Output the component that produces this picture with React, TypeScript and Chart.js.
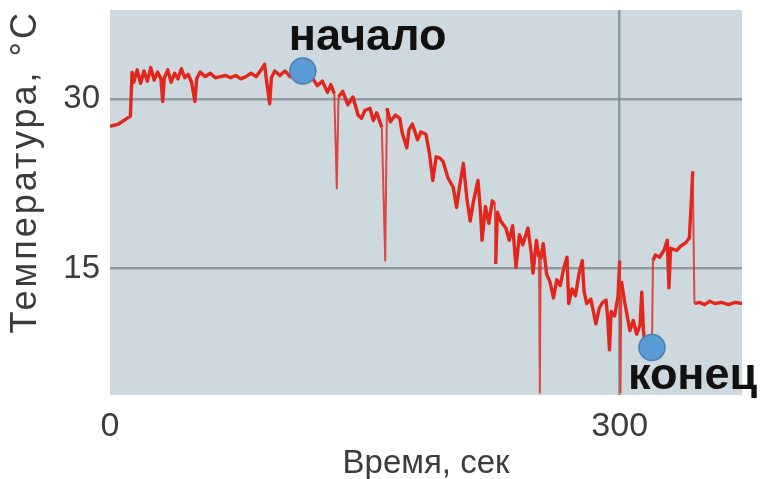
import React, { useEffect, useRef } from "react";
import { Chart, registerables } from "chart.js";

Chart.register(...registerables);

// ---- data ----
const timeSec = [
  0, 5, 10, 12, 13, 14, 16, 18, 20, 22, 24, 26, 28, 30, 31, 32, 34, 36, 38, 40,
  42, 44, 46, 48, 50, 51, 53, 56, 59, 62, 65, 68, 71, 74, 77, 80, 83, 86, 89, 91,
  92, 94, 95, 97, 100, 103, 106, 109, 113,
  116, 119, 122, 125, 128, 130, 132, 133.5, 134.5, 137, 140, 143, 146, 148, 150,
  153, 155, 157, 160, 162, 163, 165, 168, 170.6, 172, 174.7, 176, 178, 181, 183,
  186, 188, 190, 192, 194, 196, 199, 202, 204,
  206, 208, 210, 212, 214, 216.6, 218, 219, 221, 223, 225, 226.5, 227, 228, 230,
  233, 235, 237, 239, 241, 243, 246, 248, 249, 251, 252.5, 253, 253.5, 255, 257,
  259, 261, 263, 265, 267, 269, 270, 272, 274, 276, 278, 279, 280.6, 283, 286,
  288, 290, 292, 293, 294, 295, 297, 299, 300, 300.5, 301, 303, 306, 308, 310,
  312, 313, 314, 315, 317, 319, 319.6, 321, 323.5, 326, 328, 329, 330, 333.5,
  336, 339, 341, 342, 343, 343.5, 344, 347, 350, 353, 356, 360, 364, 368, 372,
];

const tempC = [
  27.6, 27.8, 28.3, 28.5, 32.4, 31.5, 32.6, 31.4, 32.5, 31.6, 32.8, 31.7, 32.4, 31.8, 29.8, 31.9, 32.6, 31.5, 32.3, 31.8,
  32.7, 31.9, 32.2, 31.5, 29.8, 31.8, 32.4, 32.0, 32.3, 31.9, 32.0, 32.1, 31.9, 32.1, 31.8, 32.0, 32.3, 32.0, 32.6, 33.1,
  31.8, 29.6, 31.9, 32.5, 32.1, 32.5, 32.0, 32.4, 32.2,
  32.0, 31.9, 31.2, 31.6, 30.6, 31.3, 30.5, 22.1, 30.2, 30.7, 29.5, 30.2, 28.6, 28.3, 29.0,
  29.2, 28.1, 28.8, 27.5, 15.7, 29.2, 28.0, 28.6, 28.3, 27.0, 25.7, 27.3, 27.8, 26.4, 27.1,
  26.9, 25.2, 22.8, 24.9, 24.8, 24.5, 23.0, 22.2, 20.4,
  22.5, 24.3, 21.3, 19.2, 21.0, 22.8, 20.2, 17.5, 20.5, 19.0, 21.0, 20.7, 15.4, 20.0, 19.2,
  18.6, 17.5, 18.8, 15.1, 18.0, 17.1, 18.6, 16.3, 14.6, 17.5, 16.0, 4.0, 15.8, 17.2, 14.5,
  13.8, 12.4, 14.0, 13.5, 15.0, 16.0, 11.9, 13.2, 12.6, 14.5, 15.7, 13.0, 11.9, 12.3, 10.1,
  11.5, 12.0, 12.2, 10.5, 7.8, 11.2, 10.8, 12.5, 15.7, 4.0, 13.9, 12.0, 9.5, 10.4, 9.2,
  10.0, 12.9, 9.5, 8.0, 8.6, 8.0, 15.7, 16.2, 16.0, 16.6, 17.5, 13.3, 16.8, 16.6,
  17.0, 17.3, 17.7, 20.4, 23.6, 17.8, 11.9, 12.0, 11.8, 12.1, 11.9, 12.0, 11.8, 12.0, 11.9,
];

const markerTimes = [113.5, 319];
const markerTemps = [32.5, 8.0];
const markerLabels = ["начало", "конец"];

const xTickValues = [0, 300];
const yTickValues = [15, 30];
const xTitle = "Время, сек";
const yTitle = "Температура, °C";

// ---- styles ----
const FONT = "'Liberation Sans', Arial, sans-serif";
const TXT = "#3c3c3c";
const GRID = "rgba(125,140,147,0.8)";
const PLOT_BG = "#cdd9de";
const LINE_RED = "#e3261b";
const LABEL_OFFSETS = [
  { dx: -14, dy: -21 },
  { dx: -24, dy: 41 },
];

export default function App() {
  const ref = useRef<HTMLCanvasElement>(null);

  useEffect(() => {
    const canvas = ref.current;
    if (!canvas) return;

    const bgPlugin = {
      id: "plotBg",
      beforeDraw(chart: any) {
        const { ctx, chartArea } = chart;
        ctx.save();
        ctx.fillStyle = PLOT_BG;
        ctx.fillRect(chartArea.left, chartArea.top, chartArea.right - chartArea.left, chartArea.bottom - chartArea.top);
        ctx.restore();
        // slightly spaced letters for the y-axis title
        const ys = chart.scales.y;
        if (ys && !ys.__spaced) {
          const orig = ys.drawTitle.bind(ys);
          ys.drawTitle = function () {
            const c: any = this.ctx;
            const prev = c.letterSpacing;
            c.letterSpacing = "3px";
            orig();
            c.letterSpacing = prev || "0px";
          };
          ys.__spaced = true;
        }
      },
    };

    const labelPlugin = {
      id: "markerLabels",
      afterDatasetsDraw(chart: any) {
        const { ctx } = chart;
        const meta = chart.getDatasetMeta(1);
        ctx.save();
        ctx.font = `bold 45px ${FONT}`;
        ctx.fillStyle = "#111111";
        ctx.textAlign = "left";
        ctx.textBaseline = "alphabetic";
        meta.data.forEach((el: any, i: number) => {
          const off = LABEL_OFFSETS[i];
          ctx.fillText(markerLabels[i], el.x + off.dx, el.y + off.dy);
        });
        ctx.restore();
      },
    };

    const chart = new Chart(canvas, {
      type: "scatter",
      data: {
        datasets: [
          {
            data: timeSec.map((t, i) => ({ x: t, y: tempC[i] })),
            showLine: true,
            borderColor: LINE_RED,
            borderWidth: 3.4,
            borderJoinStyle: "round",
            pointRadius: 0,
            tension: 0,
            order: 2,
            segment: {
              borderWidth: (c: any) => (Math.abs(c.p0.parsed.y - c.p1.parsed.y) > 5 ? 2 : 3.4),
              borderColor: (c: any) =>
                Math.abs(c.p0.parsed.y - c.p1.parsed.y) > 5 ? "rgba(222,45,35,0.85)" : LINE_RED,
            },
          } as any,
          {
            data: markerTimes.map((t, i) => ({ x: t, y: markerTemps[i] })),
            pointRadius: 13,
            backgroundColor: "#5b9bd5",
            borderColor: "#4a7fb0",
            borderWidth: 1.5,
            order: 1,
            clip: false,
          } as any,
        ],
      },
      options: {
        responsive: false,
        animation: false,
        layout: { autoPadding: false, padding: { left: 0, right: 18, top: 10, bottom: 0 } },
        plugins: { legend: { display: false }, tooltip: { enabled: false } },
        scales: {
          x: {
            type: "linear",
            min: 0,
            max: 372,
            afterBuildTicks: (s: any) => {
              s.ticks = xTickValues.map((v) => ({ value: v }));
            },
            afterFit: (s: any) => {
              s.height = 84;
              s.paddingLeft = 0;
              s.paddingRight = 0;
            },
            grid: {
              color: (c: any) => (c.tick && c.tick.value === 0 ? "rgba(0,0,0,0)" : GRID),
              lineWidth: 2.5,
              drawTicks: false,
            },
            border: { display: false },
            ticks: {
              padding: 11,
              color: TXT,
              font: { family: FONT, size: 34 },
              maxRotation: 0,
              autoSkip: false,
              callback: (v: any) => String(v),
            },
            title: {
              display: true,
              text: xTitle,
              color: TXT,
              font: { family: FONT, size: 33, lineHeight: 0.9 },
              padding: 0,
            },
          },
          y: {
            type: "linear",
            min: 3.8,
            max: 37.9,
            afterBuildTicks: (s: any) => {
              s.ticks = yTickValues.map((v) => ({ value: v }));
            },
            afterFit: (s: any) => {
              s.width = 110;
              s.paddingTop = 0;
              s.paddingBottom = 0;
            },
            grid: { color: GRID, lineWidth: 2.5, drawTicks: false },
            border: { display: false },
            ticks: {
              padding: 10,
              color: TXT,
              font: { family: FONT, size: 33 },
              callback: (v: any) => String(v),
            },
            title: {
              display: true,
              text: yTitle,
              align: "end",
              color: TXT,
              font: { family: FONT, size: 36, lineHeight: 1 },
              padding: { top: 8, bottom: 0 },
            },
          },
        },
      },
      plugins: [bgPlugin, labelPlugin],
    });

    return () => chart.destroy();
  }, []);

  return (
    <div style={{ position: "absolute", left: 0, top: 0, width: 760, height: 479, background: "#ffffff" }}>
      <canvas ref={ref} width={760} height={479} style={{ display: "block" }} />
    </div>
  );
}
